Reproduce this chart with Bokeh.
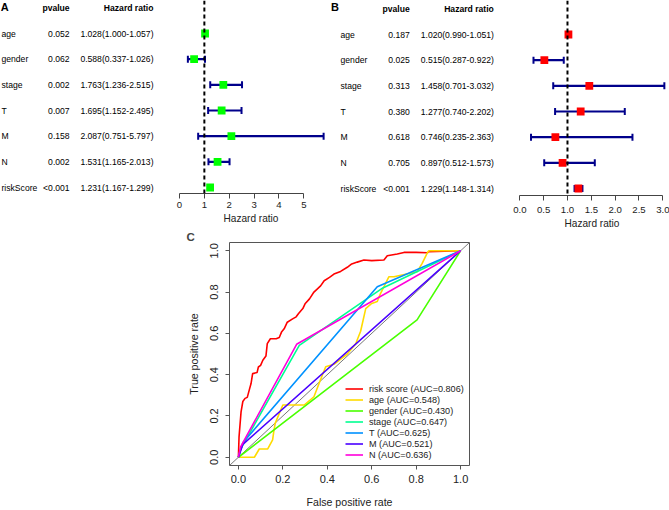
from bokeh.plotting import figure
from bokeh.models import (Range1d, FixedTicker, Span, Whisker, TeeHead, ColumnDataSource,
                          Legend, LegendItem, Spacer, NumeralTickFormatter, Title, LinearAxis)
from bokeh.layouts import column, row
from bokeh.core.properties import value
from bokeh.embed import file_html
from bokeh.resources import INLINE

FONT = "Liberation Sans"

# ---------------- data ----------------
variables = ["age", "gender", "stage", "T", "M", "N", "riskScore"]

uni_p = ["0.052", "0.062", "0.002", "0.007", "0.158", "0.002", "<0.001"]
uni_hr = [1.028, 0.588, 1.763, 1.695, 2.087, 1.531, 1.231]
uni_low = [1.000, 0.337, 1.236, 1.152, 0.751, 1.165, 1.167]
uni_high = [1.057, 1.026, 2.515, 2.495, 5.797, 2.013, 1.299]

multi_p = ["0.187", "0.025", "0.313", "0.380", "0.618", "0.705", "<0.001"]
multi_hr = [1.020, 0.515, 1.458, 1.277, 0.746, 0.897, 1.229]
multi_low = [0.990, 0.287, 0.701, 0.740, 0.235, 0.512, 1.148]
multi_high = [1.051, 0.922, 3.032, 2.202, 2.363, 1.573, 1.314]

uni_ticks = [0, 1, 2, 3, 4, 5]
multi_ticks = [0.0, 0.5, 1.0, 1.5, 2.0, 2.5, 3.0]

roc_labels = ["risk score", "age", "gender", "stage", "T", "M", "N"]
roc_auc = ["0.806", "0.548", "0.430", "0.647", "0.625", "0.521", "0.636"]
roc_colors = ["#FF0000", "#FFDB00", "#49FF00", "#00FF92", "#0092FF", "#4900FF", "#FF00DB"]

fpr_risk = [0, 0.003, 0.012, 0.02, 0.03, 0.04, 0.05, 0.057, 0.064, 0.084, 0.09, 0.10, 0.11,
            0.124, 0.13, 0.144, 0.17, 0.184, 0.194, 0.206, 0.22, 0.244, 0.26, 0.27, 0.29, 0.30,
            0.32, 0.34, 0.37, 0.386, 0.41, 0.43, 0.46, 0.49, 0.51, 0.535, 0.565, 0.60, 0.655,
            0.67, 0.715, 0.745, 0.80, 0.85, 0.856, 1.0]
tpr_risk = [0, 0.10, 0.22, 0.27, 0.285, 0.29, 0.33, 0.357, 0.405, 0.41, 0.437, 0.445, 0.47,
            0.49, 0.55, 0.574, 0.574, 0.58, 0.606, 0.622, 0.654, 0.67, 0.68, 0.695, 0.72, 0.743,
            0.767, 0.80, 0.83, 0.855, 0.871, 0.887, 0.90, 0.92, 0.936, 0.945, 0.955, 0.952, 0.955,
            0.976, 0.984, 0.992, 0.992, 0.99, 0.995, 1.0]

fpr_age = [0, 0.072, 0.094, 0.132, 0.154, 0.16, 0.166, 0.2, 0.296, 0.34, 0.363, 0.378, 0.393,
           0.43, 0.49, 0.528, 0.55, 0.573, 0.60, 0.625, 0.64, 0.677, 0.70, 0.804, 0.827, 0.849,
           0.857, 1.0]
tpr_age = [0, 0, 0.04, 0.04, 0.084, 0.13, 0.165, 0.253, 0.253, 0.293, 0.357, 0.398, 0.438,
           0.45, 0.50, 0.55, 0.61, 0.72, 0.745, 0.754, 0.794, 0.874, 0.874, 0.898, 0.939, 0.987,
           1.0, 1.0]

fpr_gender = [0, 0.804, 1.0]
tpr_gender = [0, 0.665, 1.0]

fpr_stage = [0, 0.01, 0.274, 0.65, 1.0]
tpr_stage = [0, 0.04, 0.542, 0.82, 1.0]

fpr_T = [0, 0.02, 0.625, 1.0]
tpr_T = [0, 0.07, 0.826, 1.0]

fpr_M = [0, 0.02, 1.0]
tpr_M = [0, 0.062, 1.0]

fpr_N = [0, 0.01, 0.262, 1.0]
tpr_N = [0, 0.05, 0.547, 1.0]

roc_fpr = [fpr_risk, fpr_age, fpr_gender, fpr_stage, fpr_T, fpr_M, fpr_N]
roc_tpr = [tpr_risk, tpr_age, tpr_gender, tpr_stage, tpr_T, tpr_M, tpr_N]

# ---------------- forest panels ----------------
TXT = "8.6px"


def forest(letter, pvals, hr, low, high, mark_color, xr, yr, fw, fh, ticks, fmt,
           label_x, p_x, hr_x, letter_x, letter_y, label_standoff, title_offset, gap):
    p = figure(frame_width=fw, frame_height=fh, x_range=Range1d(*xr), y_range=Range1d(*yr),
               output_backend="svg", toolbar_location=None, y_axis_location=None,
               min_border_left=0, min_border_right=0, min_border_top=0, min_border_bottom=0)
    p.outline_line_color = None
    p.grid.visible = False

    idx = list(range(1, len(variables) + 1))
    hr_txt = ["%.3f(%.3f-%.3f)" % (a, b, c) for a, b, c in zip(hr, low, high)]
    src = ColumnDataSource(dict(idx=idx, var=variables, p=pvals, hr=hr, low=low, high=high,
                                hrt=hr_txt))

    p.add_layout(Span(location=1, dimension="height", line_color="black", line_width=2,
                      line_dash="4 3"))
    head = dict(size=7, line_color="#00008B", line_width=2)
    p.add_layout(Whisker(source=src, base="idx", lower="low", upper="high", dimension="width",
                         line_color="#00008B", line_width=2.2,
                         upper_head=TeeHead(**head), lower_head=TeeHead(**head)))
    p.scatter(x="hr", y="idx", source=src, marker="square", size=7.8, color=mark_color,
              line_color=None)

    common = dict(text_font=value(FONT), text_font_size=TXT, text_baseline="middle",
                  text_color="black")
    p.text(x=label_x, y="idx", text="var", source=src, text_align="left", **common)
    p.text(x=p_x, y="idx", text="p", source=src, text_align="right", **common)
    p.text(x=hr_x, y="idx", text="hrt", source=src, text_align="right", **common)
    p.text(x=[p_x], y=[0], text=["pvalue"], text_align="right", text_font_style="bold", **common)
    p.text(x=[hr_x], y=[0], text=["Hazard ratio"], text_align="right", text_font_style="bold",
           **common)
    p.text(x=[letter_x], y=[letter_y], text=[letter], text_align="left", text_font_style="bold",
           text_font=value(FONT), text_font_size="11px", text_baseline="middle")

    ax = p.xaxis[0]
    ax.ticker = FixedTicker(ticks=ticks)
    if fmt:
        ax.formatter = NumeralTickFormatter(format=fmt)
    ax.bounds = (ticks[0], ticks[-1])
    ax.axis_line_color = "#444444"
    ax.axis_line_width = 1
    ax.major_tick_line_color = "#444444"
    ax.major_tick_out = 5
    ax.major_tick_in = 0
    ax.minor_tick_line_color = None
    ax.major_label_text_font = FONT
    ax.major_label_text_font_size = "9.6px"
    ax.major_label_text_color = "#222222"
    ax.major_label_standoff = label_standoff

    if gap:
        # tick-less axis used only as vertical room between tick labels and the axis title
        room = LinearAxis(ticker=FixedTicker(ticks=[]), axis_line_color=None,
                          major_tick_line_color="white", minor_tick_line_color=None,
                          major_tick_out=gap, major_tick_in=0, minor_tick_out=0,
                          major_label_standoff=0)
        p.add_layout(room, "below")

    p.add_layout(Title(text="Hazard ratio", align="left", offset=title_offset, standoff=0,
                       vertical_align="bottom", text_font=FONT, text_font_size="10.1px",
                       text_font_style="normal", text_color="#222222"), "below")
    return p


pA = forest("A", uni_p, uni_hr, uni_low, uni_high, "#00FF00",
            (-7.2, 6.074), (7.233, -0.286), 330, 193, uni_ticks, None,
            -7.16, -4.42, -1.046, -7.19, -0.04, 3, 223, 7)
pB = forest("B", multi_p, multi_hr, multi_low, multi_high, "#FF0000",
            (-3.971, 3.140), (7.272, -0.325), 339, 195, multi_ticks, "0.0",
            -3.76, -2.308, -0.545, -3.962, -0.075, 6, 234, 0)

# ---------------- ROC panel ----------------
pC = figure(frame_width=240, frame_height=223, x_range=Range1d(-0.04, 1.04),
            y_range=Range1d(-0.04, 1.04), output_backend="svg", toolbar_location=None,
            min_border_left=60, min_border_right=5, min_border_top=0, min_border_bottom=43)
pC.grid.visible = False
pC.outline_line_color = "#555555"
pC.outline_line_width = 1

pC.title.text = "C"
pC.title.align = "left"
pC.title.offset = -43
pC.title.standoff = 0
pC.title.text_font = FONT
pC.title.text_font_size = "11.5px"
pC.title.text_font_style = "bold"

pC.line([-0.04, 1.04], [-0.04, 1.04], line_color="#555555", line_width=0.8)
items = []
for lab, auc, col, fx, ty in zip(roc_labels, roc_auc, roc_colors, roc_fpr, roc_tpr):
    r = pC.line(fx, ty, line_color=col, line_width=1.6)
    items.append(LegendItem(label="%s (AUC=%s)" % (lab, auc), renderers=[r]))

leg = Legend(items=items, location=(116, 5), glyph_width=18, glyph_height=11, label_height=11,
             spacing=0, padding=0, margin=0, border_line_color=None, background_fill_alpha=0,
             label_text_font=FONT, label_text_font_size="9.1px", label_standoff=6,
             label_text_color="#222222")
pC.add_layout(leg)

for ax in (pC.xaxis[0], pC.yaxis[0]):
    ax.ticker = FixedTicker(ticks=[0.0, 0.2, 0.4, 0.6, 0.8, 1.0])
    ax.formatter = NumeralTickFormatter(format="0.0")
    ax.axis_line_color = None
    ax.major_tick_line_color = "#555555"
    ax.major_tick_out = 4
    ax.major_tick_in = 0
    ax.minor_tick_line_color = None
    ax.major_label_text_font = FONT
    ax.major_label_text_font_size = "11px"
    ax.major_label_text_color = "#222222"
    ax.axis_label_text_font = FONT
    ax.axis_label_text_font_size = "10.6px"
    ax.axis_label_text_font_style = "normal"
    ax.axis_label_text_color = "#222222"
pC.xaxis.axis_label = "False positive rate"
pC.yaxis.axis_label = "True positive rate"
pC.xaxis.major_label_standoff = 5
pC.xaxis.axis_label_standoff = 10
pC.yaxis.major_label_orientation = "vertical"
pC.yaxis.major_label_standoff = 7
pC.yaxis.axis_label_standoff = 8

top = row(pA, pB)
top.spacing = 0
bottom = row(Spacer(width=169, height=10), pC)
bottom.spacing = 0
layout = column(top, bottom)
layout.spacing = 0

open("out.html", "w").write(file_html(layout, INLINE))
